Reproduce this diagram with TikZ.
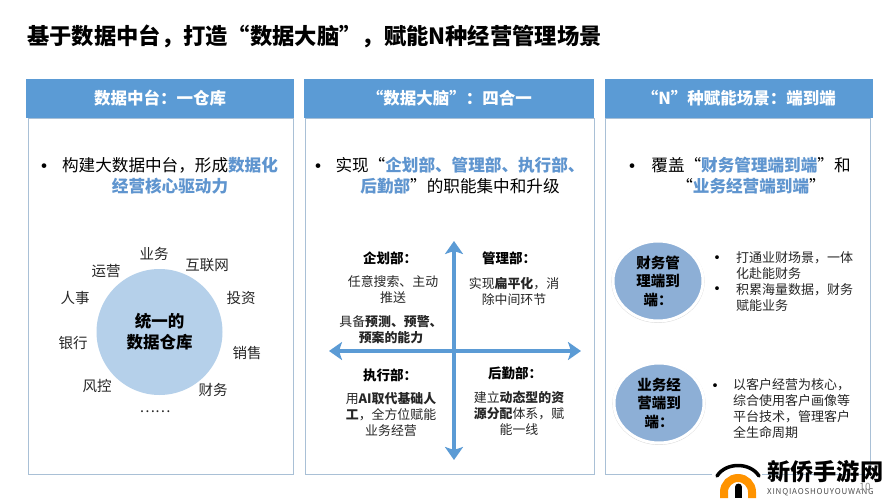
\documentclass[tikz,border=0pt]{standalone}
\usepackage{fontspec}
\setmainfont{Noto Sans CJK SC}
\usepackage{xcolor}
\usetikzlibrary{arrows.meta,positioning,shadows,shapes.geometric}
\definecolor{headblue}{HTML}{5B9BD5}
\definecolor{markblue}{HTML}{5F95CF}
\definecolor{edgeblue}{HTML}{A9C0D6}
\definecolor{discblue}{HTML}{B5D0EA}
\definecolor{ovalblue}{HTML}{8DAFD6}
\definecolor{bodyink}{HTML}{262626}
\newcommand{\mk}[1]{\textcolor{markblue}{\textbf{#1}}}
\newcommand{\fs}[2]{\fontsize{#1}{#2}\selectfont}

\begin{document}
\begin{tikzpicture}[
    x=1pt, y=-1pt,
    every node/.style={inner sep=0pt, text=bodyink},
    head/.style={rectangle, fill=headblue, minimum width=#1, minimum height=39pt, text=white, font=\fs{16.5}{18}\bfseries},
    panel/.style={rectangle, draw=edgeblue, line width=0.9pt, fill=white},
    lead/.style={align=center, text=black, font=\fs{16.6}{21}},
    point/.style={text=black, font=\fs{22}{22}},
    tick/.style={text=black, font=\fs{18}{18}},
    disc/.style={circle, fill=discblue, minimum width=126pt, align=center, text=black, font=\fs{16.5}{21}\bfseries},
    tag/.style={font=\fs{14.5}{16}},
    title/.style={font=\fs{13.5}{16}\bfseries, text=black},
    memo/.style={align=center, font=\fs{12.9}{16}},
    oval/.style={ellipse, fill=ovalblue, draw=white, line width=3pt, minimum width=90pt, minimum height=80pt, align=center, text=black, font=\fs{14.5}{18.5}\bfseries, drop shadow={shadow xshift=0pt, shadow yshift=-0.5pt, shadow scale=1.035, fill=black!30}},
    note/.style={align=left, font=\fs{13}{16}},
    axis/.style={{Stealth[length=13pt,width=18pt,inset=3pt]}-{Stealth[length=13pt,width=18pt,inset=3pt]}, draw=headblue, line width=4pt}
]
    \useasboundingbox (0,0) rectangle (889,500);
    \fill[white] (0,0) rectangle (889,500);

    % Title
    \node[anchor=west, text=black, font=\fs{22.3}{26}\bfseries] (maintitle) at (27,36) {基于数据中台，打造“数据大脑”，赋能N种经营管理场景};

    % Panels
    \draw[panel] (28,118) rectangle (293,474);
    \draw[panel] (305,118) rectangle (594,474);
    \draw[panel] (605,118) rectangle (870,474);

    % Headers
    \node[head=268pt] (head1) at (160,98.5) {数据中台：一仓库};
    \node[head=290pt, right=10pt of head1] (head2) {“数据大脑”：四合一};
    \node[head=268pt, right=10pt of head2] (head3) {“N”种赋能场景：端到端};

    % First panel
    \node[point] (dot1) at (44,169) {•};
    \node[lead] (lead1) at (170,175.5) {构建大数据中台，形成\mk{数据化}\\\mk{经营核心驱动力}};
    \node[disc] (store) at (159.5,332) {统一的\\数据仓库};
    \node[tag] (yewu) at (154,254) {业务};
    \node[tag] (hulian) at (207,265) {互联网};
    \node[tag] (touzi) at (241,298) {投资};
    \node[tag] (xiaoshou) at (247,353) {销售};
    \node[tag] (caiwu) at (213,390) {财务};
    \node[tag] (fengkong) at (97,386) {风控};
    \node[tag] (yinhang) at (73,343) {银行};
    \node[tag] (renshi) at (75,298) {人事};
    \node[tag] (yunying) at (106,271) {运营};
    \node[tag] (more) at (155,412) {……};

    % Second panel
    \node[point] (dot2) at (318,169) {•};
    \node[lead] (lead2) at (460,175.5) {实现“\mk{企划部、管理部、执行部、}\\\mk{后勤部}”的职能集中和升级};
    \coordinate (north) at (454,241);
    \coordinate (south) at (454,460);
    \coordinate (west) at (329,351);
    \coordinate (east) at (581,351);
    \draw[axis] (south) -- (north);
    \draw[axis] (west) -- (east);

    \node[title] (plan) at (390,258) {企划部：};
    \node[memo] (plan1) at (393,290) {任意搜索、主动\\推送};
    \node[memo] (plan2) at (391,330) {具备\textbf{预测、预警、}\\\textbf{预案的能力}};
    \node[title] (manage) at (509,258) {管理部：};
    \node[memo] (manage1) at (514,291) {实现\textbf{扁平化}，消\\除中间环节};
    \node[title] (exec) at (390,375) {执行部：};
    \node[memo] (exec1) at (391,415) {用\textbf{AI取代基础人}\\\textbf{工}，全方位赋能\\业务经营};
    \node[title] (back) at (515,373) {后勤部：};
    \node[memo] (back1) at (519,413) {建立\textbf{动态型的资}\\\textbf{源分配}体系，赋\\能一线};

    % Third panel
    \node[point] (dot3) at (632,169) {•};
    \node[lead] (lead3) at (751,175.5) {覆盖“\mk{财务管理端到端}”和\\“\mk{业务经营端到端}”};
    \node[oval] (finance) at (658,281) {财务管\\理端到\\端：};
    \node[oval] (business) at (659,403) {业务经\\营端到\\端：};
    \node[tick] (dot4) at (717,260.5) {•};
    \node[tick] (dot5) at (717,291.5) {•};
    \node[tick] (dot6) at (715,388.5) {•};
    \node[note, anchor=west] (finance1) at (736,281.5) {打通业财场景，一体\\化赴能财务\\积累海量数据，财务\\赋能业务};
    \node[note, anchor=west] (business1) at (733,409) {以客户经营为核心，\\综合使用客户画像等\\平台技术，管理客户\\全生命周期};

    % Mark
    \fill[white] (712,461) rectangle (762,498);
    \draw[draw=orange!85!yellow, line width=8pt] (724,498) -- (724,492) arc[start angle=180, end angle=0, radius=14pt] -- (752,498);
    \fill[black] (735,498) rectangle (742,487);
    \fill[black] (738.5,487) circle[radius=3.5pt];
    \draw[draw=white, line width=6.5pt] (717,476) .. controls (726,462) and (750,462) .. (759,476);
    \draw[draw=black, line width=3.5pt, line cap=round] (717,476) .. controls (726,462) and (750,462) .. (759,476);
    \node[anchor=west, text=black, font=\fs{23.2}{26}\bfseries] (markname) at (767,472) {新侨手游网};
    \node[anchor=west, text=black!70, font=\fs{8}{8}\addfontfeature{LetterSpace=10}] (markline) at (767,492) {XINQIAOSHOUYOUWANG};
    \node[text=black!45, font=\fs{10}{10}] (pageno) at (865,487) {10};
\end{tikzpicture}
\end{document}
